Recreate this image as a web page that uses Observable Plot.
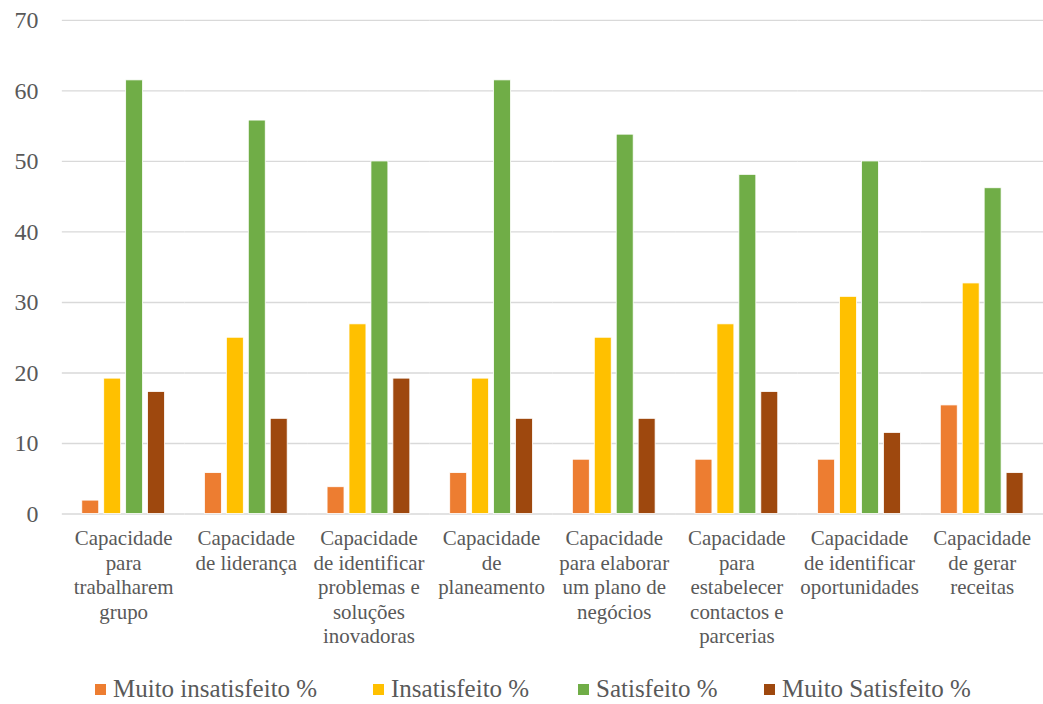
<!DOCTYPE html>
<html>
<head>
<meta charset="utf-8">
<script src="https://cdn.jsdelivr.net/npm/d3@7"></script>
<script src="https://cdn.jsdelivr.net/npm/@observablehq/plot@0.6"></script>
<style>
  html, body { margin: 0; padding: 0; background: #fff; overflow: hidden; }
  #chart { width: 1043px; overflow: hidden; }
  .legend { position: relative; height: 44px; margin-top: 9px;
    font-family: "Liberation Serif", "Tinos", "DejaVu Serif", "Noto Serif", "Times New Roman", serif; font-size: 25px; color: #595959; }
  .legend .item { position: absolute; top: 8px; display: flex; align-items: center; white-space: nowrap; }
  .legend .sw { width: 11px; height: 11px; margin-right: 7px; }
</style>
</head>
<body>
<div id="chart"></div>
<script>
const categories = [
  "Capacidade para trabalharem grupo",
  "Capacidade de liderança",
  "Capacidade de identificar problemas e soluções inovadoras",
  "Capacidade de planeamento",
  "Capacidade para elaborar um plano de negócios",
  "Capacidade para estabelecer contactos e parcerias",
  "Capacidade de identificar oportunidades",
  "Capacidade de gerar receitas"
];
const categoryLabels = [
  "Capacidade\npara\ntrabalharem\ngrupo",
  "Capacidade\nde liderança",
  "Capacidade\nde identificar\nproblemas e\nsoluções\ninovadoras",
  "Capacidade\nde\nplaneamento",
  "Capacidade\npara elaborar\num plano de\nnegócios",
  "Capacidade\npara\nestabelecer\ncontactos e\nparcerias",
  "Capacidade\nde identificar\noportunidades",
  "Capacidade\nde gerar\nreceitas"
];
const seriesNames = ["Muito insatisfeito %", "Insatisfeito %", "Satisfeito %", "Muito Satisfeito %"];
const seriesColors = ["#ED7D31", "#FFC000", "#70AD47", "#9E480E"];
const muitoInsatisfeito = [1.9, 5.8, 3.8, 5.8, 7.7, 7.7, 7.7, 15.4];
const insatisfeito = [19.2, 25.0, 26.9, 19.2, 25.0, 26.9, 30.8, 32.7];
const satisfeito = [61.5, 55.8, 50.0, 61.5, 53.8, 48.1, 50.0, 46.2];
const muitoSatisfeito = [17.3, 13.5, 19.2, 13.5, 13.5, 17.3, 11.5, 5.8];
const yTicks = [0, 10, 20, 30, 40, 50, 60, 70];
const legendLeft = [95, 373, 578, 764];

const seriesValues = [muitoInsatisfeito, insatisfeito, satisfeito, muitoSatisfeito];
const data = [];
categories.forEach((c, i) => {
  seriesNames.forEach((s, j) => data.push({category: c, series: s, value: seriesValues[j][i]}));
});
const labelMap = new Map(categories.map((c, i) => [c, categoryLabels[i]]));
const font = '"Liberation Serif", "Tinos", "DejaVu Serif", "Noto Serif", "Times New Roman", serif';

const chart = Plot.plot({
  width: 1046,
  height: 660,
  marginTop: 20,
  marginBottom: 145,
  marginLeft: 61,
  marginRight: 0,
  style: {fontFamily: font, background: "#fff"},
  fx: {domain: categories, padding: 0},
  x: {domain: seriesNames, paddingInner: 0.248, paddingOuter: 0.85, axis: null},
  y: {domain: [0, 70]},
  color: {domain: seriesNames, range: seriesColors},
  marks: [
    Plot.ruleY(yTicks, {stroke: "#d9d9d9", strokeWidth: 1.3}),
    Plot.barY(data, {fx: "category", x: "series", y: "value", fill: "series", stroke: "#fff", strokeWidth: 0.8}),
    Plot.axisY({ticks: yTicks, tickSize: 0, tickPadding: 24, fontSize: 24, fill: "#595959", label: null, fontFamily: font}),
    Plot.axisFx({anchor: "bottom", tickSize: 0, tickPadding: 14, fontSize: 21, lineHeight: 1.17, fill: "#595959",
      label: null, fontFamily: font, tickFormat: d => labelMap.get(d)})
  ]
});
chart.style.fontFamily = font;
document.getElementById("chart").appendChild(chart);

const legend = document.createElement("div");
legend.className = "legend";
seriesNames.forEach((s, j) => {
  const item = document.createElement("div");
  item.className = "item";
  item.style.left = legendLeft[j] + "px";
  const sw = document.createElement("span");
  sw.className = "sw";
  sw.style.background = seriesColors[j];
  const t = document.createElement("span");
  t.textContent = s;
  item.appendChild(sw); item.appendChild(t);
  legend.appendChild(item);
});
document.body.appendChild(legend);
</script>
</body>
</html>
